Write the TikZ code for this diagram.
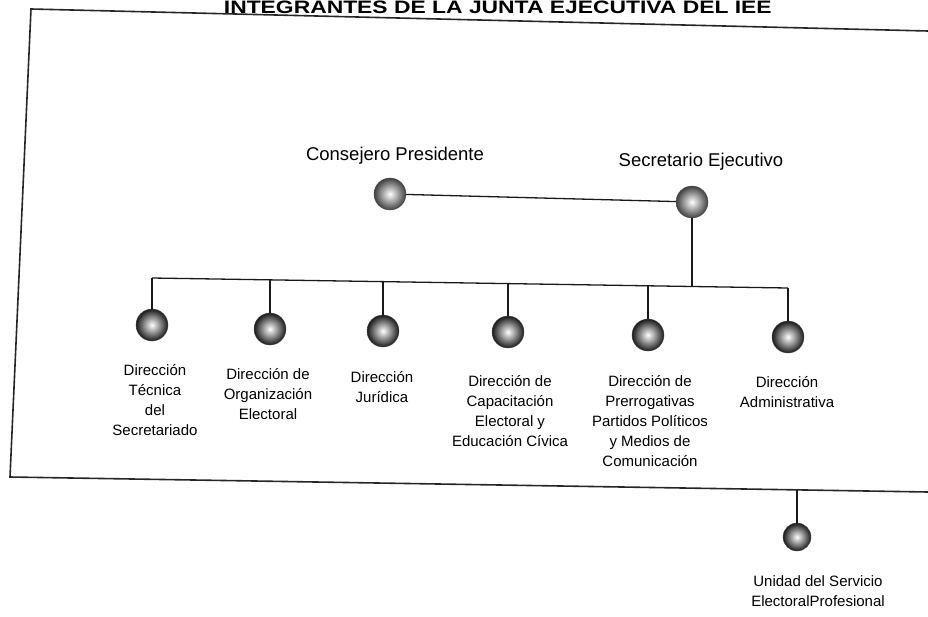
\documentclass[tikz,border=0pt]{standalone}
\usepackage{fontspec}
\setmainfont{Liberation Sans}
\begin{document}
\begin{tikzpicture}[x=1pt,y=-1pt,
  frameline/.style={draw=black!85,line width=1.6pt},
  link/.style={draw=black!90,line width=1.3pt},
  ball/.style={circle,minimum size=32pt,inner sep=0pt,inner color=white,outer color=black!90,draw=black!70,line width=0.4pt},
  topball/.style={ball,inner color=white,outer color=black!75},
  toplabel/.style={font=\fontsize{18.5}{22}\selectfont,anchor=base,inner sep=0pt},
  sublabel/.style={font=\fontsize{15}{20}\selectfont,align=center,anchor=north,inner sep=0pt},
  titletext/.style={font=\fontsize{18}{22}\bfseries\selectfont,anchor=base east,inner sep=0pt}
]
\useasboundingbox (0,0) rectangle (928,616);
% title (at the top edge of the page)
\node[titletext,xscale=1.27] (title) at (772,13.2) {INTEGRANTES DE LA JUNTA EJECUTIVA DEL IEE};
% frame
\coordinate (ftl) at (31,9);
\coordinate (ftr) at (928,31);
\coordinate (fbl) at (10,477);
\coordinate (fbr) at (928,492);
\draw[frameline] (ftr) -- (ftl) -- (fbl) -- (fbr);
% top level
\node[toplabel] (cpl) at (395,160) {Consejero Presidente};
\node[toplabel] (sel) at (701,166) {Secretario Ejecutivo};
\node[topball] (cp) at (390,194) {};
\node[topball] (se) at (692,202) {};
\draw[link] (cp) -- (se);
% bar
\coordinate (b1) at (152,278);
\coordinate (b2) at (270,279.9);
\coordinate (b3) at (383,281.6);
\coordinate (b4) at (508,283.6);
\coordinate (b5) at (648,285.8);
\coordinate (bse) at (692,286.5);
\coordinate (b6) at (788,288);
\draw[link] (b1) -- (b6);
\draw[link] (se) -- (bse);
% children
\node[ball] (d1) at (152,325) {};
\node[ball] (d2) at (270,329) {};
\node[ball] (d3) at (383,331) {};
\node[ball] (d4) at (508,332) {};
\node[ball] (d5) at (648,335) {};
\node[ball] (d6) at (788,337) {};
\foreach \i in {1,...,6} {\draw[link] (b\i) -- (d\i);}
\node[sublabel] (l1) at (155,364) {Dirección\\Técnica\\del\\Secretariado};
\node[sublabel] (l2) at (268,368) {Dirección de\\Organización\\Electoral};
\node[sublabel] (l3) at (382,371) {Dirección\\Jurídica};
\node[sublabel] (l4) at (510,375) {Dirección de\\Capacitación\\Electoral y\\Educación Cívica};
\node[sublabel] (l5) at (650,375) {Dirección de\\Prerrogativas\\Partidos Políticos\\y Medios de\\Comunicación};
\node[sublabel] (l6) at (787,376) {Dirección\\Administrativa};
% unidad
\coordinate (fu) at (797,490);
\node[ball,minimum size=28pt] (u) at (797,537) {};
\draw[link] (fu) -- (u);
\node[sublabel] (ul) at (818,575) {Unidad del Servicio\\ElectoralProfesional};
\end{tikzpicture}
\end{document}
